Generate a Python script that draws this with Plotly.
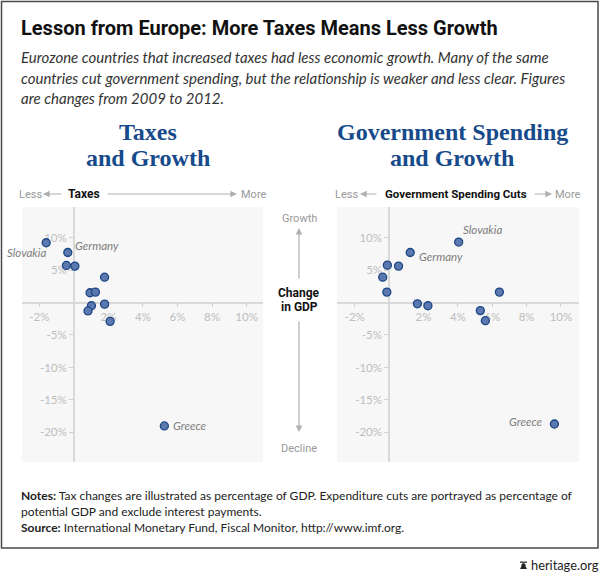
import plotly.graph_objects as go

W, H = 600, 576

# ---------------- data ----------------
countries = ["Slovakia", "Germany", "", "", "", "", "", "", "", "", "", "Greece"]
gdp_change = [9.2, 7.7, 5.7, 5.6, 3.9, 1.5, 1.6, -0.25, -0.5, -1.3, -2.9, -19.0]
tax_change = [-1.6, -0.35, -0.43, 0.06, 1.78, 0.94, 1.25, 1.78, 1.02, 0.82, 2.1, 5.24]
spending_gdp = [9.3, 7.7, 5.75, 5.6, 3.9, 1.6, 1.6, -0.2, -0.5, -1.25, -2.8, -18.7]
spending_cuts = [4.05, 1.23, -0.1, 0.55, -0.37, -0.13, 6.42, 1.65, 2.26, 5.31, 5.6, 9.62]

x_ticks = [-2, 2, 4, 6, 8, 10]
y_ticks = [10, 5, -5, -10, -15, -20]
x_ticktext = [f"{v}%" for v in x_ticks]
y_ticktext = [f"{v}%" for v in y_ticks]

# ---------------- helpers ----------------
def px(x):
    return x / W

def py(y):
    return 1 - y / H

NARROW = "Roboto, sans-serif"
SERIF = "Liberation Serif, serif"
SANS = "Lato, sans-serif"
BLUE = "#174a8b"

L_dom_x = [px(22), px(263)]
R_dom_x = [px(337), px(579)]
dom_y = [py(462), py(207)]
L_xr = [-3.0, 10.95]
R_xr = [-3.03, 11.05]
yr = [-24.55, 14.7]


def zero_pos(dom, rng):
    return dom[0] + (0 - rng[0]) / (rng[1] - rng[0]) * (dom[1] - dom[0])


axis_common = dict(
    showgrid=False, zeroline=False, showline=True, linecolor="#d9d9d9",
    linewidth=1.5, ticks="outside", ticklen=4, tickwidth=1, tickcolor="#d0d0d0",
    tickfont=dict(family=SANS, size=11.5, color="#bdbdbd"),
    layer="below traces", fixedrange=True, anchor="free",
)

marker = dict(size=8, color="#5b79af", line=dict(color="#1b4585", width=1.3))

fig = go.Figure()
fig.add_trace(go.Scatter(x=tax_change, y=gdp_change, mode="markers", marker=marker,
                         xaxis="x", yaxis="y", hoverinfo="skip", showlegend=False))
fig.add_trace(go.Scatter(x=spending_cuts, y=spending_gdp, mode="markers", marker=marker,
                         xaxis="x2", yaxis="y2", hoverinfo="skip", showlegend=False))

x_pos = zero_pos(dom_y, yr)

fig.update_layout(
    xaxis=dict(domain=L_dom_x, range=L_xr, position=x_pos,
               tickvals=x_ticks, ticktext=x_ticktext, **axis_common),
    yaxis=dict(domain=dom_y, range=yr, position=zero_pos(L_dom_x, L_xr),
               tickvals=y_ticks, ticktext=y_ticktext, **axis_common),
    xaxis2=dict(domain=R_dom_x, range=R_xr, position=x_pos,
                tickvals=x_ticks, ticktext=x_ticktext, **axis_common),
    yaxis2=dict(domain=dom_y, range=yr, position=zero_pos(R_dom_x, R_xr),
                tickvals=y_ticks, ticktext=y_ticktext, **axis_common),
)

ann = []


def text(t, x, y, size, color, family, xanchor="center", yanchor="middle"):
    ann.append(dict(text=t, x=px(x), y=py(y), xref="paper", yref="paper",
                    showarrow=False, xanchor=xanchor, yanchor=yanchor,
                    font=dict(size=size, color=color, family=family)))


def arrow(xh, yh, xt, yt):
    ann.append(dict(text="", x=px(xh), y=py(yh), xref="paper", yref="paper",
                    ax=xt - xh, ay=yt - yh, axref="pixel", ayref="pixel",
                    showarrow=True, arrowhead=2, arrowsize=1.1, arrowwidth=1.2,
                    arrowcolor="#b0b0b0", standoff=0, startstandoff=0))


# header
text("<b>Lesson from Europe: More Taxes Means Less Growth</b>", 19, 28, 20, "#111", NARROW, "left")
sub = [
    "Eurozone countries that increased taxes had less economic growth. Many of the same",
    "countries cut government spending, but the relationship is weaker and less clear. Figures",
    "are changes from 2009 to 2012.",
]
for i, s in enumerate(sub):
    text(f"<i>{s}</i>", 19, 57 + i * 20.5, 15, "#333", SANS, "left")

# chart titles
text("<b>Taxes</b>", 148, 132, 24, BLUE, SERIF)
text("<b>and Growth</b>", 148, 158, 24, BLUE, SERIF)
text("<b>Government Spending</b>", 452, 132, 24, BLUE, SERIF)
text("<b>and Growth</b>", 452, 158, 24, BLUE, SERIF)

# top axis labels
text("Less", 30, 194, 11, "#999", NARROW)
arrow(43, 194, 63, 194)
text("<b>Taxes</b>", 83.5, 194, 12, "#111", NARROW)
arrow(237, 194, 106, 194)
text("More", 253.5, 194, 11, "#999", NARROW)

text("Less", 346, 194, 11, "#999", NARROW)
arrow(360, 194, 378, 194)
text("<b>Government Spending Cuts</b>", 456, 194, 11.5, "#111", NARROW)
arrow(552, 194, 533, 194)
text("More", 568, 194, 11, "#999", NARROW)

# middle GDP axis
text("Growth", 299, 218, 11, "#999", NARROW)
arrow(299, 228, 299, 280)
text("<b>Change</b>", 299, 293, 12, "#111", NARROW)
text("<b>in GDP</b>", 299, 307, 12, "#111", NARROW)
arrow(299, 432, 299, 320)
text("Decline", 299, 448, 11, "#999", NARROW)

# country labels
label_style = dict(size=11.5, color="#7d7d7d", family=SANS)
left_offsets = {"Slovakia": ("right", 2, -10), "Germany": ("left", 5, 6.5), "Greece": ("left", 7, 0)}
right_offsets = {"Slovakia": ("left", 2, 13), "Germany": ("left", 7, -4), "Greece": ("right", -9, 2)}
for i, name in enumerate(countries):
    if not name:
        continue
    xa, xs, ys = left_offsets[name]
    ann.append(dict(text=f"<i>{name}</i>", x=tax_change[i], y=gdp_change[i], xref="x", yref="y",
                    showarrow=False, xanchor=xa, yanchor="middle", xshift=xs, yshift=ys,
                    font=label_style))
    xa, xs, ys = right_offsets[name]
    ann.append(dict(text=f"<i>{name}</i>", x=spending_cuts[i], y=spending_gdp[i], xref="x2", yref="y2",
                    showarrow=False, xanchor=xa, yanchor="middle", xshift=xs, yshift=ys,
                    font=label_style))

# notes
text("<b>Notes:</b> Tax changes are illustrated as percentage of GDP. Expenditure cuts are portrayed as percentage of",
     19, 495, 12, "#222", SANS, "left")
text("potential GDP and exclude interest payments.", 19, 511, 12, "#222", SANS, "left")
text("<b>Source:</b> International Monetary Fund, Fiscal Monitor, http://www.imf.org.",
     19, 527, 12, "#222", SANS, "left")

# footer
text("heritage.org", 529, 565, 12.8, "#222", SANS, "left")

shapes = [
    dict(type="rect", xref="paper", yref="paper", x0=px(1.5), x1=px(598), y0=py(1.5), y1=py(548),
         line=dict(color="#4a4a4a", width=1.5), fillcolor="rgba(0,0,0,0)", layer="below"),
    dict(type="path", xref="paper", yref="paper",
         path=(f"M {px(520.3)},{py(569)} L {px(526.7)},{py(569)} L {px(526.7)},{py(568)} "
               f"L {px(525.7)},{py(567)} L {px(525.4)},{py(564)} Q {px(523.5)},{py(562.3)} {px(521.6)},{py(564)} "
               f"L {px(521.3)},{py(567)} L {px(520.3)},{py(568)} Z"),
         fillcolor="#222", line=dict(width=0)),
    dict(type="rect", xref="paper", yref="paper", x0=px(520), x1=px(527), y0=py(562.8), y1=py(561.6),
         fillcolor="#222", line=dict(width=0)),
]

fig.update_layout(
    width=W, height=H, autosize=False,
    margin=dict(l=0, r=0, t=0, b=0),
    paper_bgcolor="white", plot_bgcolor="#f7f7f7",
    annotations=ann, shapes=shapes, hovermode=False, showlegend=False,
)

fig.write_html("out.html", config={"displayModeBar": False},
               post_script="document.body.style.margin='0';")
